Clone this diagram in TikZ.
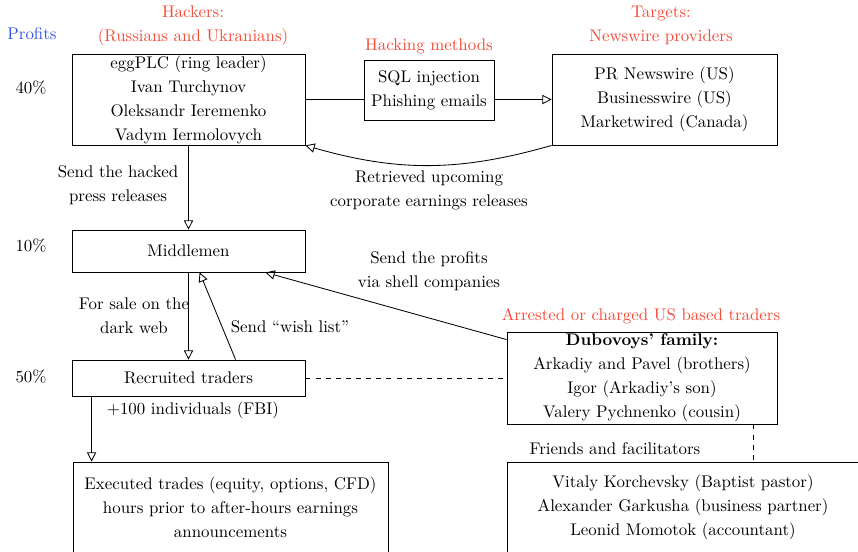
\documentclass[tikz,border=0pt]{standalone}
\usetikzlibrary{arrows.meta,calc}
\definecolor{hackred}{RGB}{245,75,55}
\definecolor{profblue}{RGB}{55,85,235}
\newcommand\pxu{0.5927pt}
\begin{document}
\begin{tikzpicture}[x=0.5927pt,y=-0.5927pt,
  font=\fontsize{10}{14.2}\selectfont,
  box/.style={draw,rectangle,inner sep=0pt,align=center,fill=white},
  lbl/.style={align=center,inner sep=0pt},
  redlbl/.style={lbl,text=hackred},
  arr/.style={-{Triangle[open,length=5.5pt,width=5.5pt]}},
  line width=0.5pt]
\clip (0,0) rectangle (858,551);
\fill[white] (0,0) rectangle (858,551);
% nodes
\node[box,minimum width=233*\pxu,minimum height=91*\pxu] (hack) at (188.5,99.5)
  {eggPLC (ring leader)\\Ivan Turchynov\\Oleksandr Ieremenko\\Vadym Iermolovych};
\node[box,minimum width=225*\pxu,minimum height=91*\pxu] (targ) at (664.5,99.5)
  {PR Newswire (US)\\Businesswire (US)\\Marketwired (Canada)};
\node[box,minimum width=233*\pxu,minimum height=42*\pxu] (mid) at (188.5,251) {Middlemen};
\node[box,minimum width=233*\pxu,minimum height=36*\pxu] (rec) at (188.5,378) {Recruited traders};
\node[box,minimum width=315*\pxu,minimum height=90*\pxu] (exe) at (230.5,507)
  {Executed trades (equity, options, CFD)\\hours prior to after-hours earnings\\announcements};
\node[box,minimum width=270*\pxu,minimum height=92*\pxu] (dub) at (642,378)
  {\textbf{Dubovoys' family:}\\Arkadiy and Pavel (brothers)\\Igor (Arkadiy's son)\\Valery Pychnenko (cousin)};
\node[box,minimum width=352*\pxu,minimum height=90*\pxu] (fri) at (683,507)
  {Vitaly Korchevsky (Baptist pastor)\\Alexander Garkusha (business partner)\\Leonid Momotok (accountant)};
% connectors
\coordinate (ml) at (364,99.5);
\coordinate (mr) at (494,99.5);
\draw (hack.east) -- (ml);
\draw[arr] (mr) -- (targ.west);
\node[box,minimum width=130*\pxu,minimum height=60*\pxu] (meth) at (429,90)
  {SQL injection\\Phishing emails};
\draw[arr] (targ.south west) to[bend left=16] (hack.south east);
\draw[arr] (hack.south) -- (mid.north);
\draw[arr] (mid.south) -- (rec.north);
\draw[arr] ($(rec.north west)+(164,0)$) -- ($(mid.south west)+(128,0)$);
\draw[arr] ($(dub.north west)+(0,8)$) -- ($(mid.south east)+(-40,0)$);
\draw[dashed] (rec.east) -- (dub.west);
\coordinate (dd) at ($(dub.south east)+(-24,0)$);
\draw[dashed] (dd) -- (dd |- fri.north);
\draw[arr] ($(rec.south west)+(20,0)$) -- ($(exe.north west)+(19,0)$);
% labels
\node[lbl,text=profblue] (prof) at (32,34) {Profits};
\node[lbl] (p40) at (31,88) {40\%};
\node[lbl] (p10) at (31,246) {10\%};
\node[lbl] (p50) at (31,377) {50\%};
\node[redlbl] (lhack) at (193,25.5) {Hackers:\\(Russians and Ukranians)};
\node[redlbl] (lmeth) at (429,46) {Hacking methods};
\node[redlbl] (ltarg) at (661,25.5) {Targets:\\Newswire providers};
\node[redlbl] (larr) at (641,316) {Arrested or charged US based traders};
\node[lbl] (l1) at (118,185) {Send the hacked\\press releases};
\node[lbl] (l2) at (429,190) {Retrieved upcoming\\corporate earnings releases};
\node[lbl] (l3) at (134,316) {For sale on the\\dark web};
\node[lbl] (l4) at (290,327) {Send ``wish list''};
\node[lbl] (l5) at (429,271) {Send the profits\\via shell companies};
\node[lbl] (l6) at (193,410) {$+$100 individuals (FBI)};
\node[lbl] (l7) at (615,449) {Friends and facilitators};
\end{tikzpicture}
\end{document}
